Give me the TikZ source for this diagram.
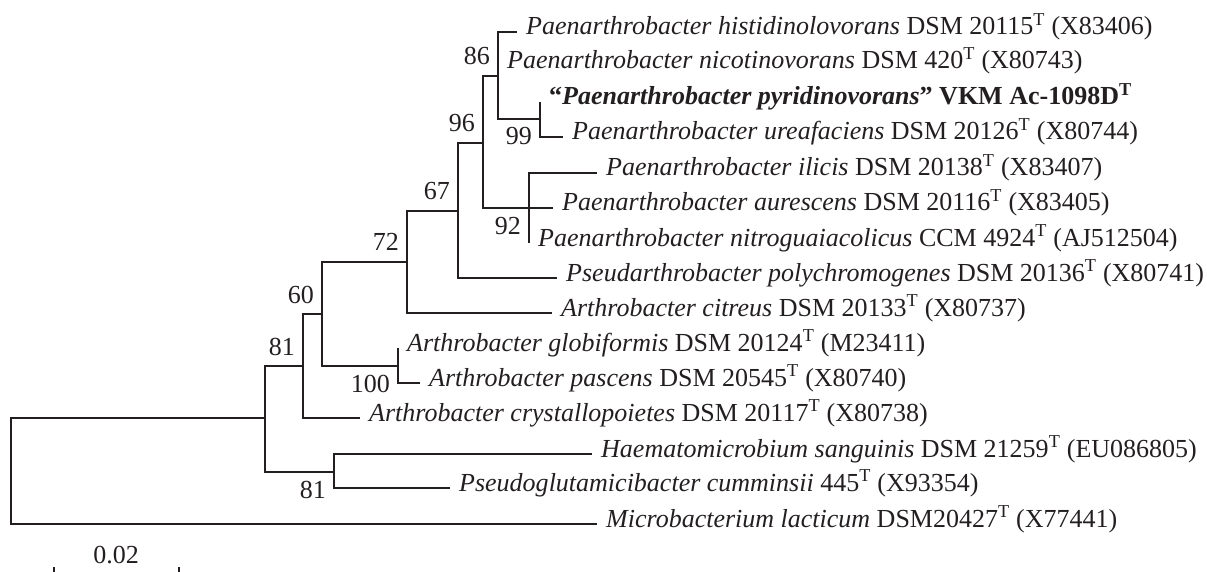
\documentclass[tikz,border=0pt]{standalone}
\usepackage{fontspec}
\setmainfont{Liberation Serif}
\definecolor{treecolor0001}{RGB}{35,31,32}

\begin{document}
\begin{tikzpicture}[x=1pt,y=-1pt
            ,tstyle0/.style={color=treecolor0001,line width=1.5pt}
            ,tstyle1/.style={anchor=base west,inner sep=0pt,xshift=9pt,yshift=-3pt,color=treecolor0001,font=\fontsize{26}{31}\selectfont}
            ,tstyle2/.style={anchor=base east,inner sep=0pt,xshift=-8pt,yshift=11pt,color=treecolor0001,font=\fontsize{26}{31}\selectfont}
            ,tstyle3/.style={anchor=base east,inner sep=0pt,xshift=-8pt,yshift=-26pt,color=treecolor0001,font=\fontsize{26}{31}\selectfont}
            ,tstyle4/.style={inner sep=0pt,color=treecolor0001,font=\fontsize{26}{31}\selectfont}
        ]
        \useasboundingbox (0,0) rectangle (1207,572);
        % inner nodes
        \coordinate (root) at (11,471);
        \coordinate (nA) at (265,418);
        \coordinate (n81a) at (303,366);
        \coordinate (n60) at (322,314);
        \coordinate (n100) at (398,366);
        \coordinate (n72) at (407,262);
        \coordinate (n67) at (458,211);
        \coordinate (n96) at (483,143);
        \coordinate (n86) at (498,76);
        \coordinate (n99) at (540,119);
        \coordinate (n92) at (529,208);
        \coordinate (n81b) at (334,472);
        % leaf tips
        \coordinate (t01) at (517,32);
        \coordinate (t02) at (498,66);
        \coordinate (t03) at (540,102);
        \coordinate (t04) at (563,137);
        \coordinate (t05) at (597,173);
        \coordinate (t06) at (553,208);
        \coordinate (t07) at (529,243);
        \coordinate (t08) at (557,278);
        \coordinate (t09) at (552,313);
        \coordinate (t10) at (398,348);
        \coordinate (t11) at (420,383);
        \coordinate (t12) at (360,418);
        \coordinate (t13) at (592,454);
        \coordinate (t14) at (450,488);
        \coordinate (t15) at (597,524);
        % branches
        \draw[tstyle0] (root) |- (nA);
        \draw[tstyle0] (root) |- (t15);
        \draw[tstyle0] (nA) |- (n81a);
        \draw[tstyle0] (nA) |- (n81b);
        \draw[tstyle0] (n81a) |- (n60);
        \draw[tstyle0] (n81a) |- (t12);
        \draw[tstyle0] (n60) |- (n72);
        \draw[tstyle0] (n60) |- (n100);
        \draw[tstyle0] (n100) |- (t10);
        \draw[tstyle0] (n100) |- (t11);
        \draw[tstyle0] (n72) |- (n67);
        \draw[tstyle0] (n72) |- (t09);
        \draw[tstyle0] (n67) |- (n96);
        \draw[tstyle0] (n67) |- (t08);
        \draw[tstyle0] (n96) |- (n86);
        \draw[tstyle0] (n96) |- (n92);
        \draw[tstyle0] (n86) |- (t01);
        \draw[tstyle0] (n86) |- (t02);
        \draw[tstyle0] (n86) |- (n99);
        \draw[tstyle0] (n99) |- (t03);
        \draw[tstyle0] (n99) |- (t04);
        \draw[tstyle0] (n92) |- (t05);
        \draw[tstyle0] (n92) |- (t06);
        \draw[tstyle0] (n92) |- (t07);
        \draw[tstyle0] (n81b) |- (t13);
        \draw[tstyle0] (n81b) |- (t14);
        % taxa
        \node[tstyle1] (histidinolovorans) at (t01) {\textit{Paenarthrobacter histidinolovorans} DSM 20115\textsuperscript{T} (X83406)};
        \node[tstyle1] (nicotinovorans) at (t02) {\textit{Paenarthrobacter nicotinovorans} DSM 420\textsuperscript{T} (X80743)};
        \node[tstyle1] (pyridinovorans) at (t03) {\textbf{“\textit{Paenarthrobacter pyridinovorans}” VKM Ac-1098D\textsuperscript{T}}};
        \node[tstyle1] (ureafaciens) at (t04) {\textit{Paenarthrobacter ureafaciens} DSM 20126\textsuperscript{T} (X80744)};
        \node[tstyle1] (ilicis) at (t05) {\textit{Paenarthrobacter ilicis} DSM 20138\textsuperscript{T} (X83407)};
        \node[tstyle1] (aurescens) at (t06) {\textit{Paenarthrobacter aurescens} DSM 20116\textsuperscript{T} (X83405)};
        \node[tstyle1] (nitroguaiacolicus) at (t07) {\textit{Paenarthrobacter nitroguaiacolicus} CCM 4924\textsuperscript{T} (AJ512504)};
        \node[tstyle1] (polychromogenes) at (t08) {\textit{Pseudarthrobacter polychromogenes} DSM 20136\textsuperscript{T} (X80741)};
        \node[tstyle1] (citreus) at (t09) {\textit{Arthrobacter citreus} DSM 20133\textsuperscript{T} (X80737)};
        \node[tstyle1] (globiformis) at (t10) {\textit{Arthrobacter globiformis} DSM 20124\textsuperscript{T} (M23411)};
        \node[tstyle1] (pascens) at (t11) {\textit{Arthrobacter pascens} DSM 20545\textsuperscript{T} (X80740)};
        \node[tstyle1] (crystallopoietes) at (t12) {\textit{Arthrobacter crystallopoietes} DSM 20117\textsuperscript{T} (X80738)};
        \node[tstyle1] (sanguinis) at (t13) {\textit{Haematomicrobium sanguinis} DSM 21259\textsuperscript{T} (EU086805)};
        \node[tstyle1] (cumminsii) at (t14) {\textit{Pseudoglutamicibacter cumminsii} 445\textsuperscript{T} (X93354)};
        \node[tstyle1] (lacticum) at (t15) {\textit{Microbacterium lacticum} DSM20427\textsuperscript{T} (X77441)};
        % bootstrap values
        \node[tstyle2] (b86) at (n86) {86};
        \node[tstyle2] (b96) at (n96) {96};
        \node[tstyle2] (b67) at (n67) {67};
        \node[tstyle2] (b72) at (n72) {72};
        \node[tstyle2] (b60) at (n60) {60};
        \node[tstyle2] (b81a) at (n81a) {81};
        \node[tstyle3] (b99) at (n99) {99};
        \node[tstyle3] (b92) at (n92) {92};
        \node[tstyle3] (b100) at (n100) {100};
        \node[tstyle3] (b81b) at (n81b) {81};
        % scale bar
        \node[tstyle4] (scalelabel) at (116,555) {0.02};
        \coordinate (sb1) at (54,567);
        \coordinate (sb2) at (54,572);
        \coordinate (sb3) at (179,567);
        \coordinate (sb4) at (179,572);
        \draw[tstyle0] (sb1) -- (sb2);
        \draw[tstyle0] (sb3) -- (sb4);
    \end{tikzpicture}
\end{document}
